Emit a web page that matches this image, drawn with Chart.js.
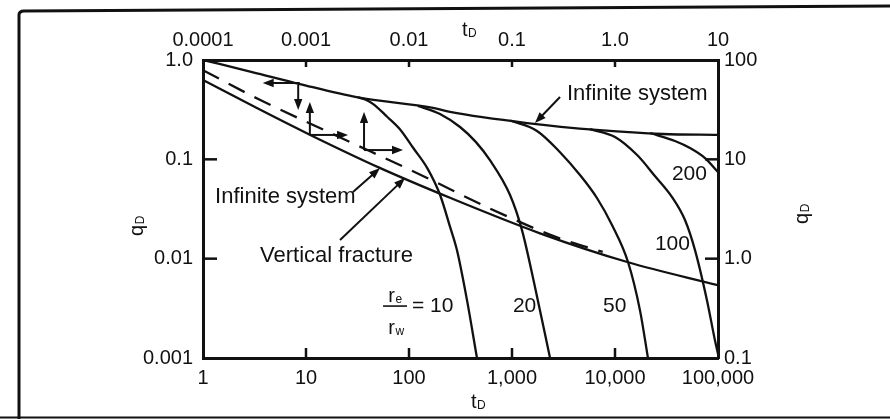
<!DOCTYPE html>
<html>
<head>
<meta charset="utf-8">
<script src="https://cdn.jsdelivr.net/npm/chart.js@4.4.1/dist/chart.umd.min.js"></script>
<style>
  html, body { margin: 0; padding: 0; background: #fff; }
</style>
</head>
<body>
<canvas id="typeCurve" width="890" height="419"></canvas>
<script>
const ink = "#111";
const family = "'Liberation Sans', Arial, Helvetica, sans-serif";

// axis ticks (bottom/left are the data axes, top/right are the shifted scales)
const bottomTicks = [1, 10, 100, 1000, 10000, 100000];
const bottomLabels = ["1", "10", "100", "1,000", "10,000", "100,000"];
const topTicks = [0.0001, 0.001, 0.01, 0.1, 1, 10];
const topLabels = ["0.0001", "0.001", "0.01", "0.1", "1.0", "10"];
const leftTicks = [0.001, 0.01, 0.1, 1];
const leftLabels = ["0.001", "0.01", "0.1", "1.0"];
const rightTicks = [0.1, 1, 10, 100];
const rightLabels = ["0.1", "1.0", "10", "100"];

// curves: tD and qD
const infiniteT = [1, 3, 8.7, 32, 171, 250, 1400, 7100, 29000, 100000];
const infiniteQ = [1.0, 0.757, 0.573, 0.42, 0.329, 0.30, 0.232, 0.197, 0.18, 0.176];

const radialT = [1, 3.3, 11, 52, 250, 1870, 13400, 100000];
const radialQ = [0.63, 0.33, 0.176, 0.082, 0.041, 0.018, 0.0092, 0.0054];

const fractureT = [1, 3.6, 21, 150, 610, 2900, 7600];
const fractureQ = [0.79, 0.395, 0.168, 0.065, 0.032, 0.016, 0.0117];

// bounded systems, re/rw
const ratios = ["10", "20", "50", "100", "200"];
const re10T = [32, 38, 45, 61, 82, 110, 150, 200, 250, 292, 366, 457];
const re10Q = [0.42, 0.398, 0.36, 0.27, 0.20, 0.13, 0.082, 0.044, 0.021, 0.0122, 0.0038, 0.001];
const re20T = [122, 200, 313, 447, 611, 957, 1250, 1640, 2340];
const re20Q = [0.345, 0.286, 0.2115, 0.149, 0.098, 0.0437, 0.0194, 0.0057, 0.001];
const re50T = [957, 1750, 2925, 4570, 6680, 9350, 13400, 17500, 20900];
const re50Q = [0.246, 0.193, 0.118, 0.0695, 0.0408, 0.0218, 0.0092, 0.003, 0.001];
const re100T = [5715, 10000, 16400, 24400, 35800, 47800, 59800, 78200, 93500, 100000];
const re100Q = [0.2015, 0.168, 0.1105, 0.068, 0.0417, 0.0245, 0.0122, 0.0038, 0.0015, 0.0011];
const re200T = [21900, 38200, 53500, 74800, 100000];
const re200Q = [0.184, 0.153, 0.130, 0.103, 0.0745];

// where the re/rw numbers sit
const ratioLabelT = [107, 1020, 7640, 24400, 35700];
const ratioLabelQ = [0.0029, 0.0029, 0.0029, 0.0122, 0.062];

// text notes and their leader arrows [tFrom, qFrom, tTo, qTo]
const notes = [
  { text: "Infinite system", t: 3420, q: 0.395 },
  { text: "Infinite system", t: 1.31, q: 0.0363 },
  { text: "Vertical fracture", t: 3.58, q: 0.00924 }
];
const leaderArrows = [
  [2925, 0.424, 1671, 0.232],
  [28.6, 0.0469, 52.3, 0.0817],
  [21.4, 0.0154, 91.4, 0.0648]
];
// match-point shift arrows
const shiftArrows = [
  [8.7, 0.587, 3.8, 0.587],
  [8.4, 0.56, 8.4, 0.313],
  [10.9, 0.176, 10.9, 0.378],
  [10.9, 0.176, 25.6, 0.176],
  [36.6, 0.124, 36.6, 0.299],
  [36.6, 0.124, 87.5, 0.124]
];

const pts = (ts, qs) => ts.map((t, i) => ({ x: t, y: qs[i] }));

function curve(label, ts, qs, dash) {
  return {
    label,
    data: pts(ts, qs),
    xAxisID: "x",
    yAxisID: "y",
    borderColor: ink,
    borderWidth: 2.3,
    borderDash: dash || [],
    pointRadius: 0,
    fill: false,
    cubicInterpolationMode: "monotone"
  };
}

function logScale(position, min, max, ticks, labels, size, pad) {
  return {
    type: "logarithmic",
    position,
    min,
    max,
    afterBuildTicks: s => { s.ticks = ticks.map(v => ({ value: v })); },
    afterFit: s => {
      if (s.isHorizontal()) s.height = size; else s.width = size;
    },
    ticks: {
      autoSkip: false,
      maxRotation: 0,
      padding: pad,
      color: ink,
      font: { family, size: 20 },
      callback: v => labels[ticks.findIndex(t => Math.abs(Math.log10(t) - Math.log10(v)) < 1e-6)]
    },
    grid: { display: false, drawTicks: false },
    border: { display: true, color: ink, width: 3 }
  };
}

function line(ctx, x0, y0, x1, y1) {
  ctx.beginPath();
  ctx.moveTo(x0, y0);
  ctx.lineTo(x1, y1);
  ctx.stroke();
}

function arrow(ctx, x0, y0, x1, y1, head) {
  const a = Math.atan2(y1 - y0, x1 - x0);
  const c = Math.cos(a), s = Math.sin(a);
  line(ctx, x0, y0, x1 - c * head * 0.7, y1 - s * head * 0.7);
  ctx.beginPath();
  ctx.moveTo(x1, y1);
  ctx.lineTo(x1 - c * head + s * head * 0.38, y1 - s * head - c * head * 0.38);
  ctx.lineTo(x1 - c * head - s * head * 0.38, y1 - s * head + c * head * 0.38);
  ctx.closePath();
  ctx.fill();
}

// text with a subscript, centred on (cx, cy)
function subText(ctx, base, sub, cx, cy, size, rot) {
  ctx.save();
  ctx.translate(cx, cy);
  if (rot) ctx.rotate(rot);
  ctx.textAlign = "left";
  ctx.textBaseline = "alphabetic";
  ctx.font = `${size}px ${family}`;
  const wb = ctx.measureText(base).width;
  const subSize = Math.round(size * 0.62);
  ctx.font = `${subSize}px ${family}`;
  const ws = ctx.measureText(sub).width;
  const x0 = -(wb + ws) / 2;
  ctx.font = `${size}px ${family}`;
  ctx.fillText(base, x0, size * 0.33);
  ctx.font = `${subSize}px ${family}`;
  ctx.fillText(sub, x0 + wb + 0.5, size * 0.33 + size * 0.08);
  ctx.restore();
}

const decor = {
  id: "decor",
  beforeDraw(chart) {
    const ctx = chart.ctx;
    ctx.save();
    ctx.fillStyle = "#fff";
    ctx.fillRect(0, 0, chart.width, chart.height);
    ctx.restore();
  },
  afterDraw(chart) {
    const { ctx, chartArea: area } = chart;
    const { x, y, x2, y2 } = chart.scales;
    ctx.save();
    ctx.strokeStyle = ink;
    ctx.fillStyle = ink;
    ctx.lineWidth = 2.5;

    // inward ticks at the inner decades
    const inner = s => s.ticks.map(t => t.value).filter(v => v > s.min * 1.001 && v < s.max * 0.999);
    inner(x).forEach(v => { const p = x.getPixelForValue(v); line(ctx, p, area.bottom, p, area.bottom - 10); });
    inner(x2).forEach(v => { const p = x2.getPixelForValue(v); line(ctx, p, area.top, p, area.top + 7); });
    inner(y).forEach(v => { const p = y.getPixelForValue(v); line(ctx, area.left, p, area.left + 14, p); });
    inner(y2).forEach(v => { const p = y2.getPixelForValue(v); line(ctx, area.right, p, area.right - 13, p); });

    // arrows
    ctx.lineWidth = 2;
    shiftArrows.concat(leaderArrows).forEach(([t0, q0, t1, q1]) => {
      arrow(ctx, x.getPixelForValue(t0), y.getPixelForValue(q0),
        x.getPixelForValue(t1), y.getPixelForValue(q1), 11);
    });

    // notes
    ctx.font = `22px ${family}`;
    ctx.textAlign = "left";
    ctx.textBaseline = "alphabetic";
    notes.forEach(n => ctx.fillText(n.text, x.getPixelForValue(n.t), y.getPixelForValue(n.q)));

    // re/rw numbers
    ctx.font = `21px ${family}`;
    ratios.forEach((r, i) => {
      const px = x.getPixelForValue(ratioLabelT[i]);
      const py = y.getPixelForValue(ratioLabelQ[i]);
      ctx.fillText(i === 0 ? "= " + r : r, px, py);
      if (i === 0) {
        // re / rw fraction in front of the first number
        subText(ctx, "r", "e", px - 17, py - 17, 20);
        ctx.lineWidth = 1.6;
        line(ctx, px - 29, py - 6, px - 5, py - 6);
        subText(ctx, "r", "w", px - 16, py + 15, 20);
      }
    });

    // axis titles
    subText(ctx, "t", "D", area.left + 266, area.top - 31, 20);
    subText(ctx, "t", "D", area.left + 275, area.bottom + 43, 20);
    subText(ctx, "q", "D", area.left - 67, (area.top + area.bottom) / 2 + 17, 20, -Math.PI / 2);
    subText(ctx, "q", "D", area.right + 83, (area.top + area.bottom) / 2 + 5, 20, -Math.PI / 2);

    // scanned page frame
    ctx.lineWidth = 3;
    ctx.beginPath();
    ctx.moveTo(19, 419);
    ctx.lineTo(19, 15);
    ctx.quadraticCurveTo(19, 11, 24, 11);
    ctx.lineTo(890, 6);
    ctx.stroke();
    ctx.lineWidth = 2;
    line(ctx, 0, 417.5, 890, 417.5);
    ctx.restore();
  }
};

new Chart(document.getElementById("typeCurve"), {
  type: "line",
  data: {
    datasets: [
      curve("Infinite system", infiniteT, infiniteQ),
      curve("Infinite system (radial)", radialT, radialQ),
      curve("Vertical fracture", fractureT, fractureQ, [18, 11]),
      curve("re/rw = " + ratios[0], re10T, re10Q),
      curve("re/rw = " + ratios[1], re20T, re20Q),
      curve("re/rw = " + ratios[2], re50T, re50Q),
      curve("re/rw = " + ratios[3], re100T, re100Q),
      curve("re/rw = " + ratios[4], re200T, re200Q)
    ]
  },
  options: {
    responsive: false,
    animation: false,
    events: [],
    layout: { padding: 0 },
    plugins: { legend: { display: false }, tooltip: { enabled: false } },
    scales: {
      x: logScale("bottom", 1, 100000, bottomTicks, bottomLabels, 61, 8),
      x2: logScale("top", 0.0001, 10, topTicks, topLabels, 60, 8),
      y: logScale("left", 0.001, 1, leftTicks, leftLabels, 203, 10),
      y2: logScale("right", 0.1, 100, rightTicks, rightLabels, 172, 6)
    }
  },
  plugins: [decor]
});
</script>
</body>
</html>
